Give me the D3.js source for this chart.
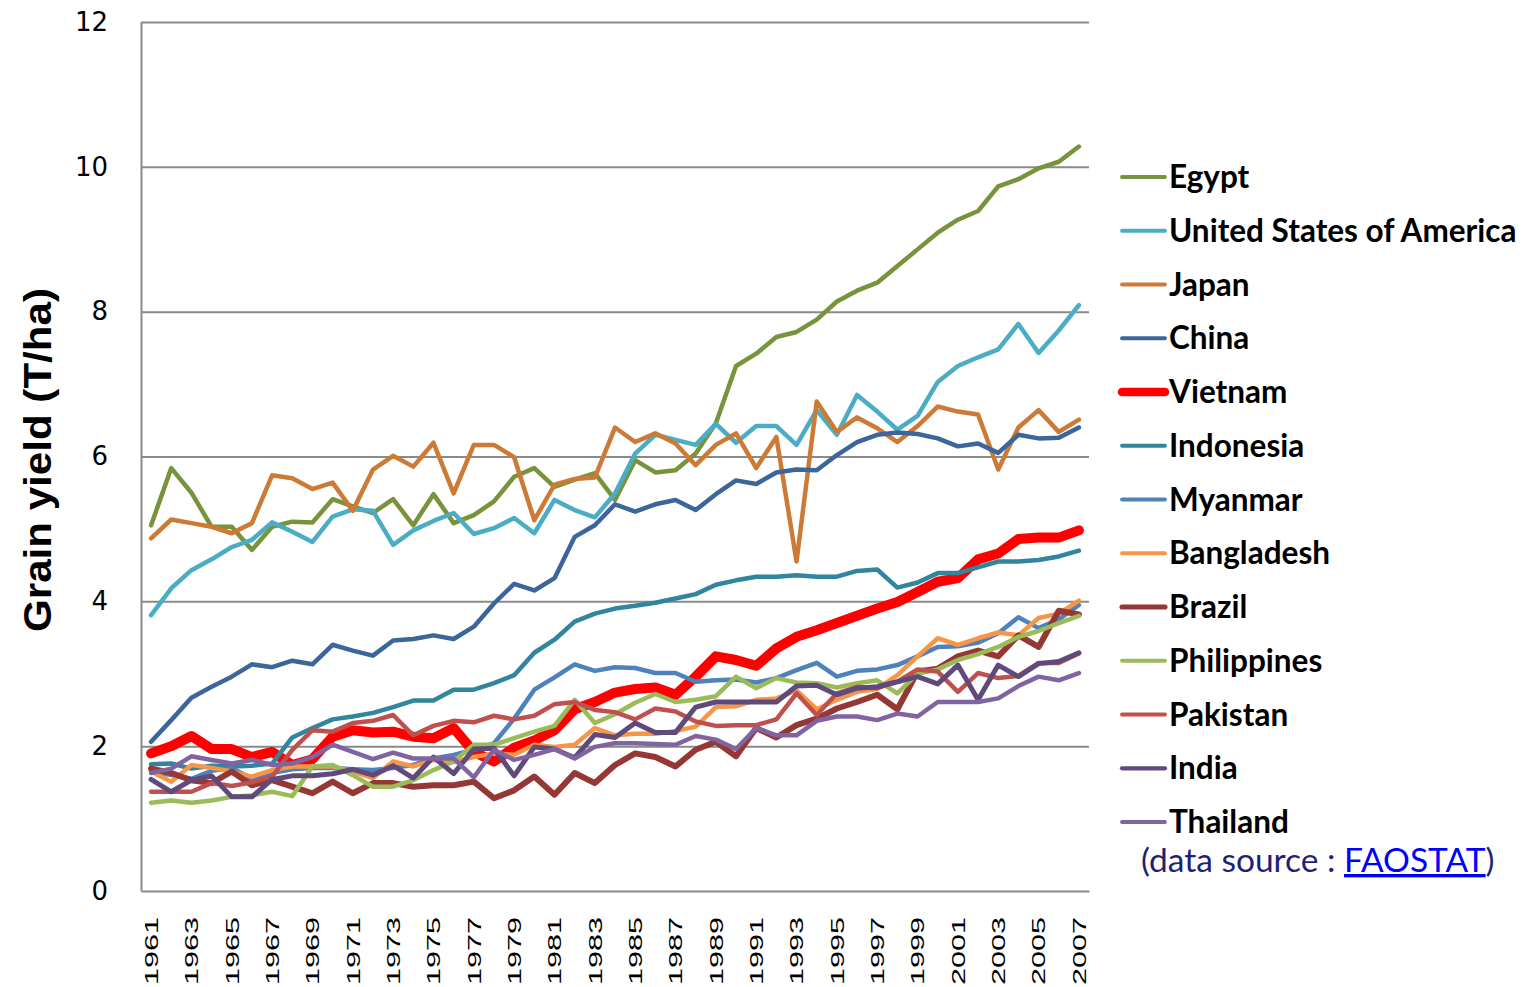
<!DOCTYPE html>
<html>
<head>
<meta charset="utf-8">
<script src="https://cdn.jsdelivr.net/npm/d3@7"></script>
<style>
  body { margin: 0; background: #fff; }
  svg { display: block; }
</style>
</head>
<body>
<svg id="chart" width="1526" height="987"></svg>
<script>
// years 1961..2007
const years = d3.range(1961, 2008);
const yTicks = [0, 2, 4, 6, 8, 10, 12];
const xTickYears = years.filter(y => y % 2 === 1);

const countries = ["Egypt", "United States of America", "Japan", "China", "Vietnam", "Indonesia",
    "Myanmar", "Bangladesh", "Brazil", "Philippines", "Pakistan", "India", "Thailand"];

const egypt = [5.05, 5.84, 5.50, 5.03, 5.03, 4.71, 5.03, 5.10, 5.09, 5.41,
    5.31, 5.22, 5.41, 5.05, 5.48, 5.08, 5.19, 5.38, 5.72, 5.84,
    5.58, 5.68, 5.77, 5.40, 5.95, 5.78, 5.81, 6.04, 6.46, 7.25,
    7.42, 7.65, 7.72, 7.89, 8.14, 8.29, 8.40, 8.63, 8.86, 9.09,
    9.27, 9.39, 9.73, 9.83, 9.98, 10.07, 10.28];
const usa = [3.81, 4.18, 4.43, 4.58, 4.75, 4.85, 5.09, 4.96, 4.82, 5.17,
    5.27, 5.25, 4.78, 4.98, 5.11, 5.22, 4.93, 5.01, 5.15, 4.94,
    5.40, 5.26, 5.16, 5.49, 6.04, 6.30, 6.23, 6.16, 6.45, 6.19,
    6.42, 6.42, 6.16, 6.64, 6.30, 6.85, 6.62, 6.37, 6.56, 7.03,
    7.25, 7.37, 7.48, 7.83, 7.43, 7.74, 8.09];
const japan = [4.87, 5.13, 5.08, 5.03, 4.94, 5.08, 5.74, 5.70, 5.55, 5.64,
    5.25, 5.82, 6.01, 5.86, 6.19, 5.49, 6.16, 6.16, 5.99, 5.12,
    5.61, 5.69, 5.71, 6.40, 6.20, 6.32, 6.18, 5.88, 6.16, 6.32,
    5.84, 6.27, 4.55, 6.76, 6.34, 6.54, 6.39, 6.20, 6.42, 6.69,
    6.62, 6.58, 5.82, 6.40, 6.64, 6.34, 6.51];
const china = [2.06, 2.36, 2.67, 2.82, 2.96, 3.13, 3.09, 3.18, 3.13, 3.40,
    3.32, 3.25, 3.46, 3.48, 3.53, 3.48, 3.65, 3.97, 4.24, 4.15,
    4.32, 4.89, 5.05, 5.34, 5.24, 5.34, 5.40, 5.26, 5.48, 5.67,
    5.62, 5.78, 5.82, 5.81, 6.02, 6.20, 6.30, 6.33, 6.31, 6.25,
    6.14, 6.18, 6.05, 6.30, 6.25, 6.26, 6.40];
const vietnam = [1.90, 2.00, 2.14, 1.96, 1.96, 1.85, 1.92, 1.74, 1.82, 2.13,
    2.22, 2.19, 2.20, 2.13, 2.11, 2.25, 1.92, 1.79, 1.98, 2.08,
    2.22, 2.51, 2.61, 2.74, 2.79, 2.81, 2.71, 2.96, 3.24, 3.19,
    3.11, 3.35, 3.51, 3.60, 3.70, 3.80, 3.90, 3.99, 4.13, 4.27,
    4.32, 4.58, 4.66, 4.86, 4.88, 4.88, 4.98];
const indonesia = [1.75, 1.76, 1.69, 1.73, 1.72, 1.73, 1.76, 2.12, 2.25, 2.37,
    2.41, 2.46, 2.54, 2.63, 2.63, 2.78, 2.78, 2.87, 2.98, 3.29,
    3.47, 3.72, 3.83, 3.90, 3.94, 3.98, 4.04, 4.10, 4.23, 4.29,
    4.34, 4.34, 4.36, 4.34, 4.34, 4.42, 4.44, 4.19, 4.26, 4.39,
    4.39, 4.47, 4.55, 4.55, 4.57, 4.62, 4.70];
const myanmar = [1.65, 1.60, 1.55, 1.66, 1.70, 1.55, 1.63, 1.68, 1.70, 1.70,
    1.68, 1.67, 1.70, 1.74, 1.83, 1.88, 1.95, 2.04, 2.38, 2.78,
    2.95, 3.13, 3.04, 3.09, 3.08, 3.01, 3.01, 2.89, 2.91, 2.92,
    2.88, 2.94, 3.05, 3.15, 2.96, 3.04, 3.06, 3.12, 3.24, 3.37,
    3.38, 3.43, 3.56, 3.78, 3.63, 3.75, 3.95];
const bangladesh = [1.65, 1.51, 1.74, 1.70, 1.65, 1.58, 1.67, 1.72, 1.72, 1.72,
    1.65, 1.56, 1.79, 1.72, 1.81, 1.78, 1.85, 1.90, 1.88, 2.02,
    1.99, 2.02, 2.25, 2.15, 2.17, 2.17, 2.21, 2.27, 2.54, 2.55,
    2.64, 2.66, 2.77, 2.51, 2.64, 2.75, 2.79, 2.98, 3.24, 3.49,
    3.40, 3.49, 3.57, 3.53, 3.77, 3.83, 4.01];
const brazil = [1.69, 1.63, 1.53, 1.49, 1.65, 1.46, 1.53, 1.44, 1.35, 1.51,
    1.35, 1.49, 1.49, 1.44, 1.46, 1.46, 1.51, 1.28, 1.39, 1.58,
    1.33, 1.63, 1.49, 1.74, 1.90, 1.85, 1.72, 1.95, 2.06, 1.86,
    2.25, 2.12, 2.29, 2.38, 2.52, 2.61, 2.71, 2.51, 3.03, 3.07,
    3.24, 3.32, 3.24, 3.53, 3.37, 3.87, 3.82];
const philippines = [1.22, 1.25, 1.22, 1.25, 1.30, 1.32, 1.37, 1.31, 1.72, 1.74,
    1.60, 1.44, 1.44, 1.53, 1.67, 1.79, 2.02, 2.02, 2.11, 2.20,
    2.28, 2.64, 2.32, 2.44, 2.60, 2.72, 2.61, 2.64, 2.69, 2.96,
    2.80, 2.94, 2.88, 2.87, 2.81, 2.87, 2.91, 2.73, 3.00, 3.06,
    3.19, 3.27, 3.37, 3.51, 3.59, 3.70, 3.80];
const pakistan = [1.37, 1.37, 1.37, 1.49, 1.45, 1.50, 1.58, 1.95, 2.22, 2.20,
    2.32, 2.35, 2.43, 2.15, 2.28, 2.35, 2.33, 2.42, 2.37, 2.42,
    2.58, 2.61, 2.50, 2.47, 2.37, 2.52, 2.48, 2.34, 2.28, 2.29,
    2.29, 2.37, 2.73, 2.43, 2.73, 2.82, 2.80, 2.89, 3.06, 3.03,
    2.75, 3.01, 2.94, 2.97, 3.15, 3.15, 3.28];
const india = [1.54, 1.37, 1.53, 1.59, 1.30, 1.30, 1.54, 1.59, 1.59, 1.62,
    1.68, 1.60, 1.73, 1.56, 1.85, 1.62, 1.96, 1.97, 1.59, 1.99,
    1.96, 1.84, 2.16, 2.12, 2.32, 2.19, 2.19, 2.54, 2.61, 2.61,
    2.61, 2.61, 2.83, 2.84, 2.71, 2.80, 2.82, 2.89, 2.96, 2.86,
    3.12, 2.64, 3.12, 2.96, 3.14, 3.17, 3.29];
const thailand = [1.63, 1.69, 1.86, 1.81, 1.76, 1.81, 1.74, 1.76, 1.85, 2.02,
    1.92, 1.82, 1.91, 1.83, 1.83, 1.83, 1.57, 1.95, 1.81, 1.88,
    1.96, 1.83, 1.99, 2.04, 2.04, 2.03, 2.02, 2.14, 2.09, 1.96,
    2.25, 2.15, 2.15, 2.35, 2.41, 2.41, 2.36, 2.45, 2.41, 2.61,
    2.61, 2.61, 2.66, 2.83, 2.96, 2.91, 3.01];

const values = [egypt, usa, japan, china, vietnam, indonesia, myanmar,
    bangladesh, brazil, philippines, pakistan, india, thailand];
const colors = ["#77933C", "#4BACC6", "#CC7A35", "#3B659B", "#FF0000", "#31859C", "#4F81BD",
    "#F79646", "#953735", "#9BBB59", "#C0504D", "#604A7B", "#8064A2"];
const widths = [4.5, 4.5, 4.5, 4.5, 10, 4.5, 4.5, 4.5, 6, 4.5, 4.5, 5, 4.5];

const svg = d3.select("#chart");
const plotLeft = 141, plotRight = 1089, plotTop = 22, plotBottom = 891;

let x = d3.scaleBand().domain(years).range([plotLeft, plotRight]);
let y = d3.scaleLinear().domain([0, 12]).range([plotBottom, plotTop]);
const xc = d => x(d) + x.bandwidth() / 2;

// gridlines
let grid = svg.append("g")
    .attr("transform", `translate(${plotLeft},0)`)
    .call(d3.axisLeft(y).tickValues(yTicks.slice(1)).tickSize(-(plotRight - plotLeft)).tickFormat(""));
grid.select(".domain").remove();
grid.selectAll("line").attr("stroke", "#8a8a8a").attr("stroke-width", 2);

// y axis
let yAxis = svg.append("g")
    .attr("transform", `translate(${plotLeft},0)`)
    .call(d3.axisLeft(y).tickValues(yTicks).tickSize(0).tickPadding(33));
yAxis.select(".domain").attr("stroke", "#8a8a8a").attr("stroke-width", 2);
yAxis.selectAll("text")
    .attr("font-family", "'DejaVu Sans', sans-serif")
    .attr("font-size", 26)
    .attr("fill", "#000");

// x axis
let xAxis = svg.append("g")
    .attr("transform", `translate(0,${plotBottom})`)
    .call(d3.axisBottom(x).tickValues(xTickYears).tickSize(0));
xAxis.select(".domain").attr("stroke", "#8a8a8a").attr("stroke-width", 2);
xAxis.selectAll("text")
    .attr("font-family", "'Liberation Sans', Arial, sans-serif")
    .attr("font-size", 19)
    .attr("fill", "#000")
    .attr("transform", "rotate(-90)")
    .attr("text-anchor", "end")
    .attr("x", -26)
    .attr("y", 0)
    .attr("dy", "0.36em")
    .attr("textLength", 68)
    .attr("lengthAdjust", "spacingAndGlyphs");

// y title
svg.append("text")
    .attr("transform", "translate(51,460) rotate(-90)")
    .attr("text-anchor", "middle")
    .attr("font-family", "'Liberation Sans', Arial, sans-serif")
    .attr("font-weight", "bold")
    .attr("font-size", 38)
    .attr("textLength", 344)
    .attr("lengthAdjust", "spacingAndGlyphs")
    .text("Grain yield (T/ha)");

// lines
let line = d3.line().x((d, i) => xc(years[i])).y(d => y(d));
svg.append("g").selectAll("path").data(values).join("path")
    .attr("d", d => line(d))
    .attr("fill", "none")
    .attr("stroke", (d, i) => colors[i])
    .attr("stroke-width", (d, i) => widths[i])
    .attr("stroke-linejoin", "round")
    .attr("stroke-linecap", "round");

// legend
let legend = svg.append("g").selectAll("g").data(countries).join("g")
    .attr("transform", (d, i) => `translate(0,${177 + i * 53.75})`);
legend.append("line")
    .attr("x1", 1122).attr("x2", 1165)
    .attr("stroke", (d, i) => colors[i])
    .attr("stroke-width", (d, i) => widths[i] * 0.85)
    .attr("stroke-linecap", "round");
legend.append("text")
    .attr("x", 1169)
    .attr("y", 11)
    .attr("font-family", "Lato, sans-serif")
    .attr("font-weight", "bold")
    .attr("font-size", 31.5)
    .text(d => d);

// source note
let note = svg.append("text")
    .attr("x", 1141)
    .attr("y", 872)
    .attr("font-family", "Lato, sans-serif")
    .attr("font-size", 33.5)
    .attr("fill", "#1F1F78");
note.append("tspan").text("(data source : ");
note.append("tspan").attr("fill", "#0000FF").attr("text-decoration", "underline").text("FAOSTAT");
note.append("tspan").text(")");
</script>
</body>
</html>
